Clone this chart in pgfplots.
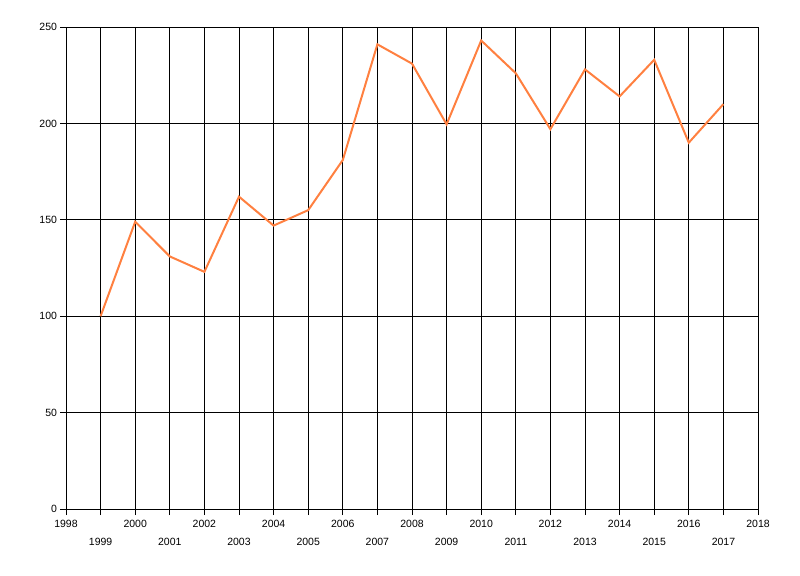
\documentclass[border=0pt]{standalone}
\usepackage{pgfplots}
\pgfplotsset{compat=1.18}
\usepackage{fontspec}
\setmainfont{Liberation Sans}
\definecolor{lineorange}{RGB}{255,128,64}
\begin{document}
\begin{tikzpicture}
\useasboundingbox (-66bp,-67bp) rectangle (734bp,509bp);
\begin{axis}[
  scale only axis,
  width=692bp, height=482bp,
  xmin=1998, xmax=2018, ymin=0, ymax=250,
  xtick={1998,2000,...,2018},
  extra x ticks={1999,2001,...,2017},
  extra x tick style={xticklabel style={yshift=-18bp}},
  ytick={0,50,...,250},
  grid=major,
  major grid style={black, line width=0.8bp},
  axis line style={black, line width=0.8bp},
  every tick/.style={black, line width=0.8bp},
  tick align=outside,
  major tick length=6bp,
  xtick pos=left, ytick pos=left,
  /pgf/number format/assume math mode=true,
  /pgf/number format/1000 sep={},
  tick label style={font=\fontsize{10.5bp}{12bp}\selectfont},
  xticklabel style={yshift=-2bp},
  yticklabel style={xshift=0.5bp},
]
\addplot[lineorange, line width=2bp] coordinates {
(1999,100) (2000,149) (2001,131) (2002,123) (2003,162) (2004,147)
(2005,155) (2006,181) (2007,241) (2008,231) (2009,199.5) (2010,243)
(2011,226) (2012,197) (2013,228) (2014,214) (2015,233) (2016,190) (2017,210)
};
\end{axis}
\end{tikzpicture}
\end{document}
